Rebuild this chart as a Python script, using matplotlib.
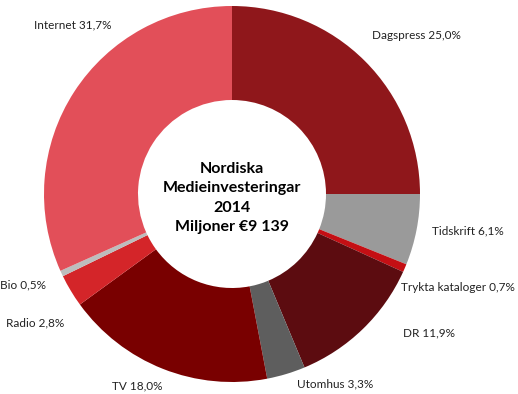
import numpy as np
import matplotlib.pyplot as plt

# Media investment shares (%), clockwise from 12 o'clock
categories = ['Dagspress', 'Tidskrift', 'Trykta kataloger', 'DR', 'Utomhus',
              'TV', 'Radio', 'Bio', 'Internet']
shares = [25.0, 6.1, 0.7, 11.9, 3.3, 18.0, 2.8, 0.5, 31.7]
share_labels = ['25,0%', '6,1%', '0,7%', '11,9%', '3,3%', '18,0%', '2,8%', '0,5%', '31,7%']
colors = ['#8f171b', '#9a9a9a', '#c40f14', '#5c0c10', '#5e5e5e',
          '#790000', '#d42529', '#bdbdbd', '#e24f59']

plt.rcParams['font.family'] = ['Lato', 'DejaVu Sans']

fig = plt.figure(figsize=(5.18, 3.94), dpi=100)
ax = fig.add_axes([0, 0, 1, 1])

wedges, _ = ax.pie(shares, colors=colors, startangle=90, counterclock=False,
                   radius=1.0, wedgeprops=dict(width=0.5, edgecolor='none'))

# place the donut: outer radius and centre in pixels
R = 188.0
cx, cy = 232.0, 200.0
ax.set_aspect('auto')
ax.set_xlim(-cx / R, (518 - cx) / R)
ax.set_ylim(-cy / R, (394 - cy) / R)
ax.axis('off')

# label positions: radial distance and angular tweak per slice
label_dist = [1.30, 1.27, 1.30, 1.28, 1.14, 1.13, 1.25, 1.21, 1.24]
angle_shift = [-4, 2.5, 1, 11, 12, -5, 2, -2, -14]
cum = np.cumsum([0] + shares[:-1])
for i, name in enumerate(categories):
    mid = 90 - (cum[i] + shares[i] / 2) * 3.6 + angle_shift[i]
    a = np.deg2rad(mid)
    ax.text(label_dist[i] * np.cos(a), label_dist[i] * np.sin(a) - 0.008,
            f'{name} {share_labels[i]}', ha='center', va='center',
            fontsize=8.5, color='#222222')

ax.text(0, -0.02, 'Nordiska\nMedieinvesteringar\n2014\nMiljoner €9 139',
        ha='center', va='center', fontsize=11.5, fontweight='bold',
        linespacing=1.5, color='black')

fig.savefig('out.png', dpi=100)
